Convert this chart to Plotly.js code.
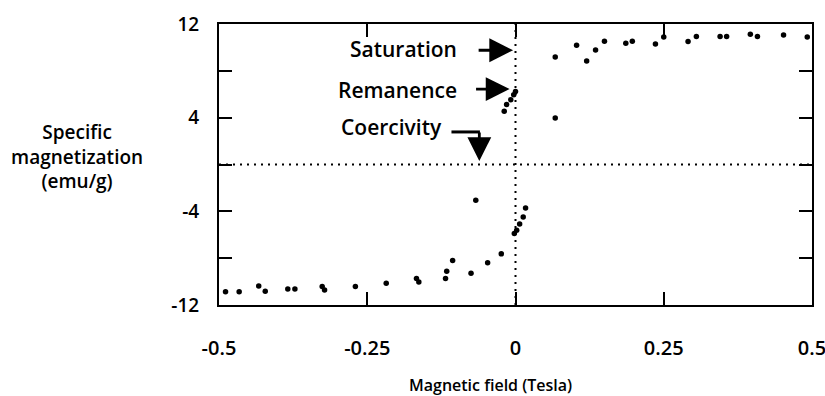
<!DOCTYPE html>
<html>
<head>
<meta charset="utf-8">
<script src="https://cdn.plot.ly/plotly-3.0.1.min.js"></script>
<style>html,body{margin:0;padding:0;background:#fff;}#chart{width:825px;height:396px;}</style>
</head>
<body>
<div id="chart"></div>
<script>
// Lower branch (field increasing from negative saturation)
const lowerField = [-0.489,-0.466,-0.433,-0.422,-0.384,-0.372,-0.326,-0.322,-0.270,-0.218,-0.167,-0.163,-0.118,-0.116,-0.106,-0.075,-0.047,-0.024,-0.002,0.002,0.007,0.013,0.017,0.067];
const lowerMag   = [-10.86,-10.86,-10.37,-10.83,-10.64,-10.64,-10.43,-10.72,-10.43,-10.15,-9.73,-10.04,-9.73,-9.11,-8.20,-9.28,-8.39,-7.63,-5.90,-5.62,-5.09,-4.48,-3.71,3.97];
// Upper branch (field decreasing from positive saturation)
const upperField = [-0.067,-0.019,-0.015,-0.008,-0.003,0.000,0.067,0.103,0.120,0.135,0.150,0.186,0.197,0.236,0.250,0.291,0.305,0.345,0.356,0.396,0.408,0.452,0.492];
const upperMag   = [-3.05,4.54,5.12,5.53,5.96,6.23,9.19,10.19,8.83,9.79,10.53,10.36,10.53,10.30,10.89,10.50,10.93,10.93,10.93,11.12,10.93,11.06,10.89];

const xTickVals = [-0.5,-0.25,0,0.25,0.5];
const xTickText = ["-0.5","-0.25","0","0.25","0.5"];
const yTickVals = [-12,-8,-4,0,4,8,12];
const yTickText = ["-12","","-4","","4","","12"];

const FONT = "Open Sans, sans-serif";
const marker = {color:"#000", size:5.5};

const traces = [
  {x: lowerField, y: lowerMag, mode:"markers", type:"scatter", marker, hoverinfo:"x+y"},
  {x: upperField, y: upperMag, mode:"markers", type:"scatter", marker, hoverinfo:"x+y"}
];

const axisCommon = {
  showline:true, linecolor:"#000", linewidth:2, mirror:"ticks",
  ticks:"inside", ticklen:13, tickwidth:2, tickcolor:"#000",
  showgrid:false, zeroline:false, tickmode:"array",
  ticklabeloverflow:"allow"
};

const layout = {
  width:825, height:396,
  margin:{l:219, r:13, t:24, b:91},
  paper_bgcolor:"#fff", plot_bgcolor:"#fff",
  showlegend:false,
  font:{family:FONT, color:"#000"},
  xaxis: Object.assign({}, axisCommon, {
    range:[-0.5,0.5], tickvals:xTickVals, ticktext:xTickText,
    ticklabelstandoff:24,
    tickfont:{family:FONT, size:20, color:"#000", weight:600}
  }),
  yaxis: Object.assign({}, axisCommon, {
    range:[-12,12], tickvals:yTickVals, ticktext:yTickText,
    ticklabelstandoff:14,
    tickfont:{family:FONT, size:19, color:"#000", weight:600}
  }),
  shapes:[
    {type:"line", xref:"x", yref:"y", x0:0, x1:0, y0:-12, y1:12, line:{color:"#000", width:2, dash:"2px,5px"}},
    {type:"line", xref:"x", yref:"y", x0:-0.5, x1:0.5, y0:0, y1:0, line:{color:"#000", width:2, dash:"2px,5px"}},
    {type:"line", xref:"x", yref:"y", x0:-0.108, x1:-0.060, y0:2.78, y1:2.78, line:{color:"#000", width:3}}
  ],
  annotations:[
    {xref:"paper", yref:"paper", x:-0.2395, y:0.527, xanchor:"center", yanchor:"middle", showarrow:false,
     text:"Specific<br>magnetization<br>(emu/g)", align:"center", font:{family:FONT, size:19, color:"#000", weight:600}},
    {xref:"paper", yref:"paper", x:0.457, y:-0.285, xanchor:"center", yanchor:"middle", showarrow:false,
     text:"Magnetic field (Tesla)", font:{family:FONT, size:16, color:"#000", weight:600}},
    {xref:"x", yref:"y", x:-0.095, y:9.9, xanchor:"right", yanchor:"middle", showarrow:false,
     text:"Saturation", font:{family:FONT, size:21, color:"#000", weight:600}},
    {xref:"x", yref:"y", x:-0.095, y:6.35, xanchor:"right", yanchor:"middle", showarrow:false,
     text:"Remanence", font:{family:FONT, size:21, color:"#000", weight:600}},
    {xref:"x", yref:"y", x:-0.12, y:3.2, xanchor:"right", yanchor:"middle", showarrow:false,
     text:"Coercivity", font:{family:FONT, size:21, color:"#000", weight:600}},
    {xref:"x", yref:"y", x:-0.004, y:9.76, text:"", showarrow:true, ax:-36, ay:0,
     arrowhead:2, arrowsize:1.7, arrowwidth:2.8, arrowcolor:"#000"},
    {xref:"x", yref:"y", x:-0.010, y:6.44, text:"", showarrow:true, ax:-35, ay:0,
     arrowhead:2, arrowsize:1.7, arrowwidth:2.8, arrowcolor:"#000"},
    {xref:"x", yref:"y", x:-0.061, y:0.3, text:"", showarrow:true, ax:0, ay:-30,
     arrowhead:2, arrowsize:1.7, arrowwidth:2.8, arrowcolor:"#000"}
  ]
};

Plotly.newPlot("chart", traces, layout, {displayModeBar:false, staticPlot:true});
</script>
</body>
</html>
